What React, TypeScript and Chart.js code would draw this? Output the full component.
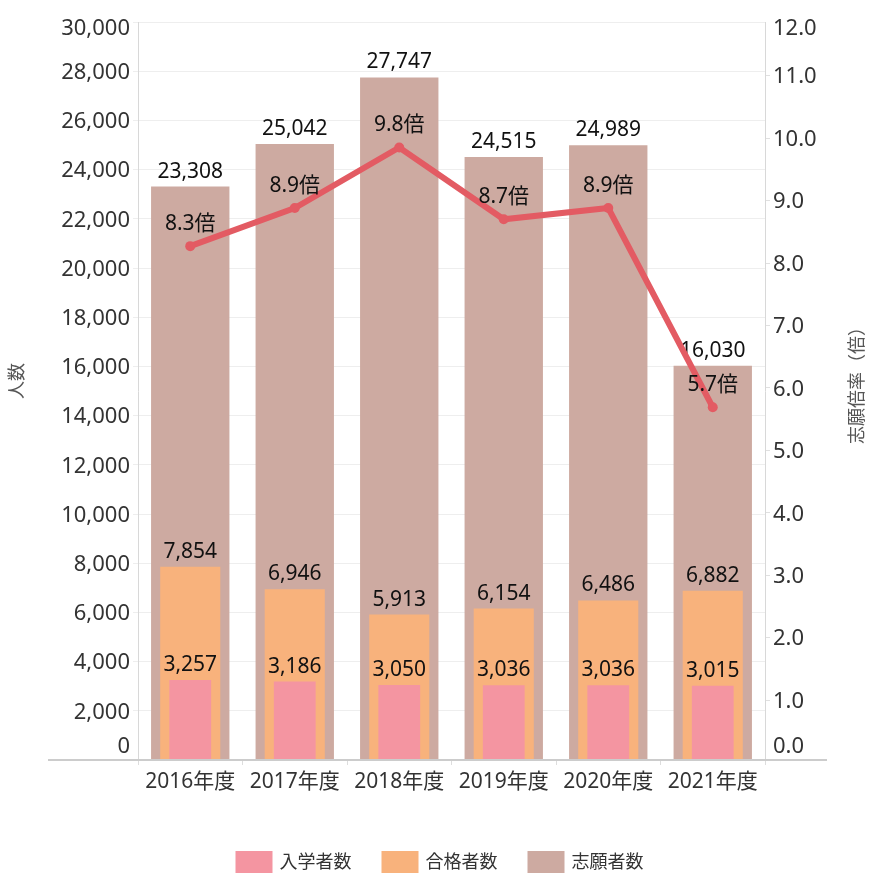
import React, { useEffect, useRef } from 'react';
import { Chart, registerables } from 'chart.js';

Chart.register(...registerables);

const FONT = "'Noto Sans', 'Noto Sans CJK JP', sans-serif";

const categories = ['2016年度', '2017年度', '2018年度', '2019年度', '2020年度', '2021年度'];
const applicants = [23308, 25042, 27747, 24515, 24989, 16030];
const passed = [7854, 6946, 5913, 6154, 6486, 6882];
const enrolled = [3257, 3186, 3050, 3036, 3036, 3015];
const rates = [8.27, 8.88, 9.85, 8.7, 8.88, 5.69];
const rateLabels = [8.3, 8.9, 9.8, 8.7, 8.9, 5.7];

const leftTicks = [0, 2000, 4000, 6000, 8000, 10000, 12000, 14000, 16000, 18000, 20000, 22000, 24000, 26000, 28000, 30000];
const rightTicks = [0, 1, 2, 3, 4, 5, 6, 7, 8, 9, 10, 11, 12];

const seriesNames = ['入学者数', '合格者数', '志願者数'];
const leftTitle = '人数';
const rightTitle = '志願倍率（倍）';

const COLOR_ENROLLED = '#F495A1';
const COLOR_PASSED = '#F8B27C';
const COLOR_APPLICANTS = '#CDAAA1';
const COLOR_LINE = '#E35B63';

export default function App() {
  const ref = useRef<HTMLCanvasElement>(null);

  useEffect(() => {
    const canvas = ref.current;
    if (!canvas) return;

    const labelPlugin = {
      id: 'valueLabels',
      afterDatasetDraw(chart: any, args: any) {
        const meta = args.meta;
        const ds = chart.data.datasets[args.index];
        const ctx = chart.ctx;
        ctx.save();
        ctx.font = `21px ${FONT}`;
        ctx.fillStyle = '#111111';
        ctx.textAlign = 'center';
        ctx.textBaseline = 'alphabetic';
        meta.data.forEach((el: any, i: number) => {
          if (meta.type === 'line') {
            ctx.fillText(`${rateLabels[i].toFixed(1)}倍`, el.x, el.y - 16);
          } else {
            const v = ds.data[i] as number;
            ctx.fillText(v.toLocaleString('en-US'), el.x, el.y - 9);
          }
        });
        ctx.restore();
      },
    };

    const decorPlugin = {
      id: 'decor',
      afterDatasetsDraw(chart: any) {
        const ctx = chart.ctx;
        const { chartArea } = chart;
        ctx.save();
        ctx.strokeStyle = '#cccccc';
        ctx.lineWidth = 2;
        ctx.beginPath();
        ctx.moveTo(48, chartArea.bottom);
        ctx.lineTo(chartArea.right + 62, chartArea.bottom);
        ctx.stroke();
        ctx.restore();
      },
      afterDraw(chart: any) {
        const ctx = chart.ctx;
        const { chartArea } = chart;
        ctx.save();

        // y-axis tick labels, clamped inside the plot like the reference
        const clampY = (p: number) =>
          Math.min(Math.max(p + 1.5, chartArea.top + 7), chartArea.bottom - 13);
        ctx.font = `22px ${FONT}`;
        ctx.fillStyle = '#333333';
        ctx.textBaseline = 'middle';
        const ys = chart.scales.y;
        ctx.textAlign = 'right';
        leftTicks.forEach((v) => {
          ctx.fillText(v.toLocaleString('en-US'), chartArea.left - 8, clampY(ys.getPixelForValue(v)));
        });
        const ys1 = chart.scales.y1;
        ctx.textAlign = 'left';
        rightTicks.forEach((v) => {
          ctx.fillText(v.toFixed(1), chartArea.right + 8, clampY(ys1.getPixelForValue(v)));
        });

        // axis titles
        const midY = (chartArea.top + chartArea.bottom) / 2 - 10;
        ctx.font = `18px ${FONT}`;
        ctx.fillStyle = '#555555';
        ctx.textAlign = 'center';
        ctx.textBaseline = 'middle';
        ctx.save();
        ctx.translate(18, midY);
        ctx.rotate(-Math.PI / 2);
        ctx.fillText(leftTitle, 0, 0);
        ctx.restore();
        ctx.save();
        ctx.translate(chart.width - 11, midY);
        ctx.rotate(-Math.PI / 2);
        ctx.fillText(rightTitle, 0, 0);
        ctx.restore();

        // legend
        const bars = chart.data.datasets.filter((d: any) => d.type !== 'line');
        const items = bars
          .slice()
          .sort((a: any, b: any) => a.order - b.order)
          .map((d: any) => ({ label: d.label, color: d.backgroundColor }));
        ctx.font = `18px ${FONT}`;
        const boxW = 37;
        const boxH = 22;
        const gap = 7;
        const spacing = 30;
        const widths = items.map((it: any) => ctx.measureText(it.label).width);
        const total =
          widths.reduce((s: number, w: number) => s + boxW + gap + w, 0) + spacing * (items.length - 1);
        let x = chart.width / 2 + 5 - total / 2;
        const top = chart.height - boxH;
        ctx.textAlign = 'left';
        items.forEach((it: any, i: number) => {
          ctx.fillStyle = it.color;
          ctx.fillRect(x, top, boxW, boxH);
          ctx.fillStyle = '#333333';
          ctx.fillText(it.label, x + boxW + gap, top + boxH / 2 + 1);
          x += boxW + gap + widths[i] + spacing;
        });
        ctx.restore();
      },
    };

    const chart = new Chart(canvas, {
      type: 'bar',
      data: {
        labels: categories,
        datasets: [
          {
            type: 'line',
            label: '志願倍率',
            data: rates,
            yAxisID: 'y1',
            borderColor: COLOR_LINE,
            backgroundColor: COLOR_LINE,
            borderWidth: 6,
            pointRadius: 5,
            pointHoverRadius: 5,
            pointBorderWidth: 0,
            pointBackgroundColor: COLOR_LINE,
            tension: 0,
            order: 0,
          } as any,
          {
            type: 'bar',
            label: seriesNames[0],
            data: enrolled,
            backgroundColor: COLOR_ENROLLED,
            grouped: false,
            categoryPercentage: 1,
            barPercentage: 0.4,
            yAxisID: 'y',
            order: 1,
          } as any,
          {
            type: 'bar',
            label: seriesNames[1],
            data: passed,
            backgroundColor: COLOR_PASSED,
            grouped: false,
            categoryPercentage: 1,
            barPercentage: 0.575,
            yAxisID: 'y',
            order: 2,
          } as any,
          {
            type: 'bar',
            label: seriesNames[2],
            data: applicants,
            backgroundColor: COLOR_APPLICANTS,
            grouped: false,
            categoryPercentage: 1,
            barPercentage: 0.75,
            yAxisID: 'y',
            order: 3,
          } as any,
        ],
      },
      options: {
        animation: false,
        responsive: true,
        maintainAspectRatio: false,
        layout: { padding: { top: 22, bottom: 73, left: 0, right: 0 } },
        plugins: {
          legend: { display: false },
          tooltip: { enabled: false },
        },
        scales: {
          x: {
            offset: true,
            grid: {
              offset: true,
              drawOnChartArea: false,
              drawTicks: true,
              tickLength: 5,
              color: '#dddddd',
            },
            border: { display: false },
            ticks: { font: { family: FONT, size: 21 }, color: '#333333', padding: 4 },
            afterFit(s: any) {
              s.height = 40;
            },
          },
          y: {
            position: 'left',
            min: 0,
            max: 30000,
            ticks: { display: false },
            afterBuildTicks(s: any) {
              s.ticks = leftTicks.map((v) => ({ value: v }));
            },
            grid: { color: '#eeeeee', tickLength: 5 },
            border: { color: '#d8d8d8', width: 1 },
            afterFit(s: any) {
              s.width = 138;
            },
          },
          y1: {
            position: 'right',
            min: 0.04,
            max: 11.86,
            ticks: { display: false },
            afterBuildTicks(s: any) {
              s.ticks = rightTicks.filter((v) => v >= s.min && v <= s.max).map((v) => ({ value: v }));
            },
            grid: { drawOnChartArea: false, color: '#e0e0e0', tickLength: 5 },
            border: { color: '#d8d8d8', width: 1 },
            afterFit(s: any) {
              s.width = 104;
            },
          },
        },
      } as any,
      plugins: [labelPlugin, decorPlugin],
    });

    return () => chart.destroy();
  }, []);

  return (
    <div style={{ position: 'fixed', left: 0, top: 0, width: 869, height: 873 }}>
      <canvas ref={ref} />
    </div>
  );
}
